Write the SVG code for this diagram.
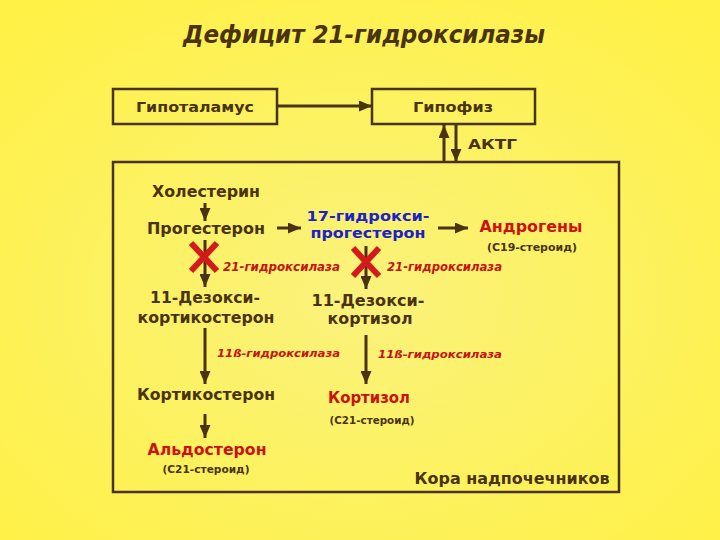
<svg xmlns="http://www.w3.org/2000/svg" width="720" height="540" viewBox="0 0 720 540">
<defs>
<radialGradient id="bg" cx="0.5" cy="0.55" r="0.7">
<stop offset="0" stop-color="#FAF27C"/>
<stop offset="1" stop-color="#FFF145"/>
</radialGradient>
<marker id="ah" markerUnits="userSpaceOnUse" markerWidth="13" markerHeight="11" refX="13" refY="5.5" orient="auto" viewBox="0 0 13 11">
<path d="M0,0 L13,5.5 L0,11 z" fill="#4A3310"/>
</marker>
<style>
.t{font-family:"DejaVu Sans","Liberation Sans",sans-serif;font-weight:bold;fill:#4A3310;text-anchor:middle}
.red{fill:#CC1111}
.blue{fill:#1C22C8}
.enz{font-family:"DejaVu Sans","Liberation Sans",sans-serif;font-weight:bold;font-style:italic;fill:#C41414}
.box{fill:none;stroke:#4A3310;stroke-width:2.5}
.c{stroke:#4A3310;stroke-width:3;fill:none;marker-end:url(#ah)}
.x{stroke:#D41A1A;stroke-width:6;stroke-linecap:butt}
</style>
</defs>
<rect width="720" height="540" fill="url(#bg)"/>
<text x="364" y="43" class="t" font-size="24" font-style="italic" textLength="362" lengthAdjust="spacingAndGlyphs">Дефицит 21-гидроксилазы</text>

<g id="hypothalamus">
<rect class="box" x="113" y="89" width="164" height="35"/>
<text class="t" x="195" y="112" font-size="14" textLength="118" lengthAdjust="spacingAndGlyphs">Гипоталамус</text>
</g>
<g id="hypophysis">
<rect class="box" x="372" y="89" width="163" height="35"/>
<text class="t" x="453" y="112" font-size="14" textLength="80" lengthAdjust="spacingAndGlyphs">Гипофиз</text>
</g>
<g id="cortex">
<rect class="box" x="113" y="162" width="506" height="330"/>
<text class="t" x="512" y="484" font-size="16" textLength="195" lengthAdjust="spacingAndGlyphs">Кора надпочечников</text>
</g>
<g id="actg-label"><text class="t" x="468" y="149" font-size="14" style="text-anchor:start" textLength="49" lengthAdjust="spacingAndGlyphs">АКТГ</text></g>

<g id="cholesterol"><text class="t" x="206" y="197" font-size="15" textLength="108" lengthAdjust="spacingAndGlyphs">Холестерин</text></g>
<g id="progesterone"><text class="t" x="206" y="234" font-size="15" textLength="118" lengthAdjust="spacingAndGlyphs">Прогестерон</text></g>
<g id="hydroxyprogesterone">
<text class="t blue" x="368" y="221" font-size="14" textLength="123" lengthAdjust="spacingAndGlyphs">17-гидрокси-</text>
<text class="t blue" x="368" y="238" font-size="14" textLength="115" lengthAdjust="spacingAndGlyphs">прогестерон</text>
</g>
<g id="androgens">
<text class="t red" x="531" y="232" font-size="15" textLength="103" lengthAdjust="spacingAndGlyphs">Андрогены</text>
<text class="t" x="532" y="251" font-size="10" textLength="90" lengthAdjust="spacingAndGlyphs">(С19-стероид)</text>
</g>
<g id="deoxycorticosterone">
<text class="t" x="205" y="303" font-size="16" textLength="110" lengthAdjust="spacingAndGlyphs">11-Дезокси-</text>
<text class="t" x="206" y="323" font-size="16" textLength="137" lengthAdjust="spacingAndGlyphs">кортикостерон</text>
</g>
<g id="deoxycortisol">
<text class="t" x="368" y="306" font-size="15" textLength="113" lengthAdjust="spacingAndGlyphs">11-Дезокси-</text>
<text class="t" x="370" y="324" font-size="15" textLength="85" lengthAdjust="spacingAndGlyphs">кортизол</text>
</g>
<g id="corticosterone"><text class="t" x="206" y="400" font-size="16" textLength="138" lengthAdjust="spacingAndGlyphs">Кортикостерон</text></g>
<g id="cortisol">
<text class="t red" x="369" y="403" font-size="15" style="font-weight:600" textLength="82" lengthAdjust="spacingAndGlyphs">Кортизол</text>
<text class="t" x="372" y="424" font-size="10" textLength="85" lengthAdjust="spacingAndGlyphs">(С21-стероид)</text>
</g>
<g id="aldosterone">
<text class="t red" x="207" y="455" font-size="15" textLength="119" lengthAdjust="spacingAndGlyphs">Альдостерон</text>
<text class="t" x="206" y="473" font-size="10" textLength="87" lengthAdjust="spacingAndGlyphs">(С21-стероид)</text>
</g>

<g id="connectors">
<line class="c" x1="277" y1="106" x2="372" y2="106"/>
<line class="c" x1="444" y1="162" x2="444" y2="125"/>
<line class="c" x1="456" y1="125" x2="456" y2="162"/>
<line class="c" x1="205" y1="203" x2="205" y2="221"/>
<line class="c" x1="277" y1="228" x2="301" y2="228"/>
<line class="c" x1="438" y1="228" x2="468" y2="228"/>
<line class="c" x1="205" y1="240" x2="205" y2="287"/>
<line class="c" x1="366" y1="246" x2="366" y2="289"/>
<line class="c" x1="205" y1="328" x2="205" y2="384"/>
<line class="c" x1="366" y1="335" x2="366" y2="384"/>
<line class="c" x1="205" y1="414" x2="205" y2="438"/>
</g>

<g id="blocks">
<line class="x" x1="191" y1="243" x2="217" y2="271"/>
<line class="x" x1="217" y1="243" x2="191" y2="271"/>
<line class="x" x1="353" y1="248" x2="379" y2="276"/>
<line class="x" x1="379" y1="248" x2="353" y2="276"/>
</g>
<g id="enzymes">
<text class="enz" x="223" y="271" font-size="12" textLength="117" lengthAdjust="spacingAndGlyphs">21-гидроксилаза</text>
<text class="enz" x="387" y="271" font-size="12" textLength="115" lengthAdjust="spacingAndGlyphs">21-гидроксилаза</text>
<text class="enz" x="217" y="357" font-size="11" textLength="123" lengthAdjust="spacingAndGlyphs">11ß-гидроксилаза</text>
<text class="enz" x="378" y="358" font-size="11" textLength="124" lengthAdjust="spacingAndGlyphs">11ß-гидроксилаза</text>
</g>
</svg>
